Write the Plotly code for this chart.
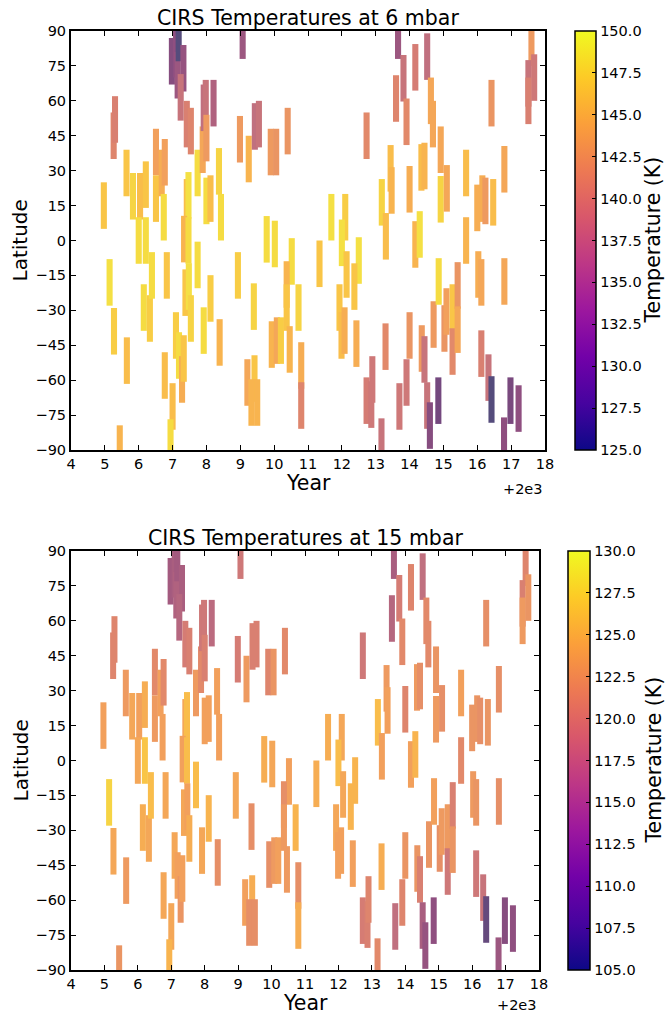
import plotly.graph_objects as go

# observation: (year offset from 2000, centre latitude, T at 6 mbar, T at 15 mbar)
YEARS = [4.97, 5.26, 5.30, 5.64, 5.83, 6.04, 6.21, 6.00, 6.21, 6.51, 6.51, 6.68, 6.77, 6.74,
         6.98, 7.10, 7.15, 7.18, 7.32, 7.24, 7.42, 7.54, 7.74, 7.89, 7.92, 7.98, 8.00, 8.21,
         8.00, 8.12, 8.37, 8.43, 7.42, 7.47, 7.34, 7.47, 8.99, 9.07, 9.25, 9.43, 9.55, 9.78,
         10.02, 9.90, 10.06, 10.40, 10.52,
         12.73, 11.69, 12.10, 12.00, 12.50, 13.18, 13.30, 13.44, 13.47, 13.60, 13.66, 13.82,
         13.91, 14.00, 14.17, 14.17, 14.30, 14.35, 14.44, 14.52, 14.63, 14.69, 14.92, 14.92,
         15.10, 15.67, 15.67, 16.00, 16.15, 16.24, 16.47, 16.42, 16.80, 17.60, 17.51, 17.68, 17.51,
         5.14, 5.27, 5.65, 5.44, 6.15, 6.33, 6.39, 6.83, 6.77, 7.10, 7.19, 7.28, 7.33, 7.00,
         6.94, 7.38, 7.48, 7.54, 7.74, 7.92, 8.12, 8.39, 8.93, 9.40, 9.21, 9.42, 9.33, 9.50,
         9.93, 10.08, 10.20, 10.37, 10.37, 10.46, 10.72, 10.80, 10.80, 11.34,
         11.93, 11.99, 12.08, 12.14, 12.37, 12.43, 12.73, 12.87, 12.90, 13.17, 13.29, 13.70,
         13.91, 14.00, 14.36, 14.44, 14.52, 14.60, 14.85, 14.71, 14.86, 15.03, 15.09, 15.27,
         15.27, 15.42, 15.42, 16.03, 16.12, 16.12, 16.33, 16.42, 16.80, 16.79, 16.98, 17.22]

LATS = [15, 45, 52, 29, 19, 19, 24, 0, 0, 38, 18, 29, 33.6, 10,
        77, 80, 71, 87, 74, 61.5, 50, 47, 29, 39, 57, 59, 44, 59,
        17, 18, 29.7, 10, 16.4, 19.4, 0.6, 0, 43.5, 88, 35, 49, 50, 0.5,
        -1.5, 38, 38, 47, -9,
        45, 10, 10, -1, -8.6, 16.4, 1.8, 31, 21.5, 61, 88, 69.7,
        51, 22, 74.4, -1.7, 2.6, 31.4, 32, 79, 60, 50, 39, 17.7,
        22.4, 29, 0, 14, 18, 17, 16.4, 59, 30.6, 85, 67.5, 70, 60,
        -18, -39, -51.6, -89.4, -28.8, -33.5, -15, -15, -58, -40.8, -49.4, -59.7, -50.7, -71.3,
        -86.8, -22.4, -19.8, -33.5, -10.5, -38.7, -24.9, -43.8, -15, -28.4, -61, -59.3, -69.6, -69.6,
        -44.7, -43, -43, -18.9, -28.8, -46.8, -28.8, -53.7, -70.9, -10,
        -28.8, -40.8, -38.7, -14.6, -19.8, -44.3, -68.8, -70.5, -59.7, -86.4, -45.6, -71.3,
        -61, -40.8, -46.4, -51.1, -70.9, -79.5, -68.8, -36.1, -17.6, -37.8, -30.5, -28.8,
        -47.7, -19.3, -38.3, -14.6, -18, -48.6, -58.9, -68.3, -17.6, -86, -68.8, -72.2]

T6 = [146.5, 141.5, 141, 146.5, 147.5, 146, 146.5, 148, 148, 144, 146.5, 145, 144, 148,
      134, 135, 136, 128, 135.5, 139.5, 141, 141.5, 148, 144.5, 139, 139.5, 143.5, 137.5,
      148, 146, 147.5, 148, 146, 148.5, 145.5, 148, 143.5, 136, 145.5, 139, 139.5, 148,
      148, 143.5, 143, 143, 148,
      142, 148.5, 147, 148.5, 148.5, 147.5, 146, 146, 145.5, 141.5, 136, 139.5,
      142, 145, 140.5, 145.5, 148.5, 146, 145.5, 139, 144.5, 144.5, 144.5, 147.5,
      144.5, 146, 145.5, 145, 145, 143.5, 146, 143, 144.5, 143.5, 139.5, 140, 141,
      148.5, 147, 146, 145.5, 148, 147, 148, 146.5, 146, 147, 148, 145, 146.5, 146,
      148, 146.5, 148.5, 147.5, 148, 148, 147, 145.5, 147, 147.5, 144.5, 146.5, 145.5, 145.5,
      145.5, 144.5, 147, 145.5, 146.5, 145.5, 147.5, 145, 141.5, 146.5,
      146.5, 146, 145, 146.5, 146.5, 145, 140.5, 140, 140, 139.5, 142, 140,
      140, 143, 143.5, 139.5, 139.5, 134, 132, 143.5, 148, 143, 144, 146.5,
      142, 143, 144.5, 145, 144.5, 141, 139.5, 128, 144.5, 135, 132.5, 135]

T15 = [124, 121.5, 121.5, 123.5, 124.5, 124, 125, 124.5, 126.5, 122, 123.5, 124, 122, 124,
       116.5, 117, 117.5, 116.5, 117, 118, 120.5, 121, 123.5, 122, 120, 120, 121, 118.5,
       124, 124, 124, 124, 124.5, 126, 124, 126, 120.5, 120, 123.5, 121, 121, 125,
       124.5, 121.5, 123, 122, 124,
       120, 125, 124.5, 126, 125.5, 126, 124, 123.5, 124, 118, 117, 120.5,
       122, 121.5, 121.5, 124, 125.5, 123.5, 122.5, 119, 122, 122, 123, 123.5,
       122.5, 124, 122, 123, 123, 122.5, 123, 122.5, 122.5, 121.5, 121, 123, 123.5,
       127.5, 124.5, 123.5, 123, 125, 124.5, 126, 124.5, 124.5, 124.5, 124, 123, 124, 124.5,
       125.5, 124.5, 124, 125, 126, 124.5, 125.5, 122.5, 124.5, 122.5, 124, 125, 122.5, 122.5,
       122.5, 123.5, 124, 122.5, 123.5, 123.5, 125.5, 122.5, 125, 125,
       124.5, 124, 124, 124.5, 125.5, 124, 120.5, 121, 121.5, 122, 125, 119,
       121.5, 123, 123, 121, 117, 115.5, 115, 123, 124, 122.5, 123.5, 123.5,
       120, 121, 123, 123.5, 123, 120, 119.5, 110, 122.5, 116, 114, 115]

LAT_SPAN = 20.0      # latitude coverage of each observation (deg)
BAR_WIDTH = 0.18     # duration shown for each observation (yr)

TITLES = ["CIRS Temperatures at 6 mbar", "CIRS Temperatures at 15 mbar"]
T_RANGES = [(125.0, 150.0), (105.0, 130.0)]
X_TICKS = list(range(4, 19))
Y_TICKS = list(range(-90, 91, 15))

# translucent look of the plasma-coloured bars on white
BAR_SCALE = [
    [0.00, "#4a4880"], [0.12, "#554c7c"], [0.28, "#74487e"], [0.40, "#8f4f80"],
    [0.50, "#b0627f"], [0.56, "#c0707f"], [0.62, "#d57c74"], [0.68, "#e2896a"],
    [0.76, "#f2a05c"], [0.82, "#f8b44f"], [0.86, "#f9c547"], [0.92, "#f5dc42"],
    [1.00, "#f2ec48"],
]

W, H = 667, 1015
FONT = "DejaVu Sans"


def px_x(p):
    return p / W


def px_y(p):
    return 1 - p / H


def fmt_tick(v):
    return str(v).replace("-", "\u2212")


panels = [
    dict(x0=71, x1=545, y0=31, y1=450, cbx=575, cbw=21, off=39, temps=T6),
    dict(x0=71, x1=539, y0=551, y1=970, cbx=568, cbw=22, off=35, temps=T15),
]

fig = go.Figure()
bases = [la - LAT_SPAN / 2 for la in LATS]
heights = [LAT_SPAN] * len(LATS)

layout = dict(
    width=W, height=H, margin=dict(l=0, r=0, t=0, b=0, autoexpand=False),
    paper_bgcolor="white", plot_bgcolor="white",
    font=dict(family=FONT, color="black", size=14.5),
    showlegend=False, barmode="overlay", annotations=[],
)

for i, p in enumerate(panels):
    sfx = "" if i == 0 else str(i + 1)
    xa, ya, ca = "x" + sfx, "y" + sfx, "coloraxis" + sfx
    tmin, tmax = T_RANGES[i]
    fig.add_trace(go.Bar(
        x=YEARS, y=heights, base=bases, width=BAR_WIDTH,
        marker=dict(color=p["temps"], colorscale=BAR_SCALE, cmin=tmin, cmax=tmax,
                    showscale=False, line=dict(width=0)),
        xaxis=xa, yaxis=ya, hoverinfo="skip",
    ))
    # colour bar carrier (no visible marks)
    fig.add_trace(go.Scatter(
        x=[None], y=[None], mode="markers",
        marker=dict(color=[tmin], coloraxis=ca), xaxis=xa, yaxis=ya, hoverinfo="skip",
    ))
    cticks = [tmin + k * 2.5 for k in range(11)]
    common = dict(ticks="inside", ticklen=5, tickwidth=1, tickcolor="black",
                  showline=True, linewidth=2, linecolor="black", mirror="ticks",
                  showgrid=False, zeroline=False, tickfont=dict(size=14.5))
    layout["xaxis" + sfx] = dict(
        domain=[px_x(p["x0"]), px_x(p["x1"])], range=[4, 18], anchor=ya,
        tickvals=X_TICKS, ticktext=[fmt_tick(v) for v in X_TICKS], **common)
    layout["yaxis" + sfx] = dict(
        domain=[px_y(p["y1"]), px_y(p["y0"])], range=[-90, 90], anchor=xa,
        tickvals=Y_TICKS, ticktext=[fmt_tick(v) for v in Y_TICKS], **common)
    layout[ca] = dict(
        colorscale="Plasma", cmin=tmin, cmax=tmax,
        colorbar=dict(
            x=px_x(p["cbx"]), xanchor="left", xpad=0, ypad=0,
            y=px_y((p["y0"] + p["y1"]) / 2), yanchor="middle",
            len=(p["y1"] - p["y0"]) / H, lenmode="fraction",
            thickness=p["cbw"], thicknessmode="pixels",
            outlinecolor="black", outlinewidth=1.5,
            tickvals=cticks, ticktext=["%.1f" % t for t in cticks],
            ticks="inside", ticklen=4, tickcolor="black",
            tickfont=dict(size=14.5, family=FONT),
        ),
    )
    xc = (p["x0"] + p["x1"]) / 2
    yc = (p["y0"] + p["y1"]) / 2
    ann = layout["annotations"]
    ann.append(dict(text=TITLES[i], x=px_x(xc), y=px_y(p["y0"] - 13), xref="paper", yref="paper",
                    showarrow=False, font=dict(size=20.5), xanchor="center", yanchor="middle"))
    ann.append(dict(text="Year", x=px_x(xc), y=px_y(p["y1"] + 33), xref="paper", yref="paper",
                    showarrow=False, font=dict(size=20.5), xanchor="center", yanchor="middle"))
    ann.append(dict(text="+2e3", x=px_x(p["x1"]), y=px_y(p["y1"] + p["off"]), xref="paper",
                    yref="paper", showarrow=False, font=dict(size=14.5),
                    xanchor="right", yanchor="middle"))
    ann.append(dict(text="Latitude", x=px_x(20), y=px_y(yc), xref="paper", yref="paper",
                    showarrow=False, font=dict(size=20), textangle=-90,
                    xanchor="center", yanchor="middle"))
    ann.append(dict(text="Temperature (K)", x=px_x(653), y=px_y(yc), xref="paper", yref="paper",
                    showarrow=False, font=dict(size=20.5), textangle=-90,
                    xanchor="center", yanchor="middle"))

fig.update_layout(**layout)
fig.write_html("out.html")
